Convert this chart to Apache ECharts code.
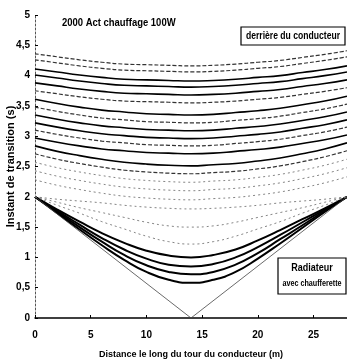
<!DOCTYPE html>
<html><head><meta charset="utf-8">
<script src="https://cdn.jsdelivr.net/npm/echarts@6/dist/echarts.min.js"></script>
<style>html,body{margin:0;padding:0;background:#fff}#c{width:347px;height:361px}</style>
</head><body><div id="c"></div>
<script>
// distances (m)
const xs = [0,2,4,6,8,10,12,14,16,18,20,22,24,26,28];
// upper family: "derrière du conducteur"
const upperCurves = [
 [4.36,4.31,4.26,4.22,4.19,4.18,4.17,4.16,4.17,4.19,4.22,4.25,4.30,4.35,4.41],
 [4.26,4.21,4.16,4.12,4.09,4.08,4.07,4.06,4.07,4.09,4.12,4.15,4.20,4.25,4.31],
 [4.11,4.06,4.01,3.97,3.94,3.93,3.92,3.91,3.92,3.94,3.97,4.00,4.05,4.10,4.16],
 [4.01,3.96,3.91,3.87,3.84,3.83,3.82,3.81,3.82,3.84,3.87,3.90,3.95,4.00,4.06],
 [3.88,3.83,3.78,3.74,3.71,3.70,3.69,3.68,3.69,3.71,3.74,3.77,3.82,3.87,3.93],
 [3.75,3.70,3.65,3.61,3.58,3.57,3.56,3.55,3.56,3.58,3.61,3.64,3.69,3.74,3.80],
 [3.61,3.54,3.48,3.43,3.40,3.37,3.36,3.35,3.36,3.39,3.42,3.46,3.52,3.58,3.66],
 [3.48,3.41,3.35,3.30,3.27,3.24,3.23,3.22,3.23,3.26,3.29,3.33,3.39,3.45,3.53],
 [3.35,3.28,3.22,3.17,3.14,3.11,3.10,3.09,3.10,3.13,3.16,3.20,3.26,3.32,3.40],
 [3.22,3.15,3.09,3.04,3.01,2.98,2.97,2.96,2.97,3.00,3.03,3.07,3.13,3.19,3.27],
 [3.10,3.03,2.97,2.92,2.89,2.86,2.85,2.84,2.85,2.88,2.91,2.95,3.01,3.07,3.15],
 [2.97,2.90,2.84,2.79,2.76,2.73,2.72,2.71,2.72,2.75,2.78,2.82,2.88,2.94,3.02],
 [2.84,2.75,2.68,2.62,2.57,2.54,2.52,2.51,2.53,2.55,2.59,2.64,2.71,2.79,2.89],
 [2.71,2.62,2.55,2.49,2.44,2.41,2.39,2.38,2.40,2.42,2.46,2.51,2.58,2.66,2.76],
 [2.57,2.48,2.41,2.35,2.30,2.27,2.25,2.24,2.26,2.28,2.32,2.37,2.44,2.52,2.62],
 [2.43,2.34,2.27,2.21,2.16,2.13,2.11,2.10,2.12,2.14,2.18,2.23,2.30,2.38,2.48],
 [2.28,2.19,2.12,2.06,2.01,1.98,1.96,1.95,1.97,1.99,2.03,2.08,2.15,2.23,2.33]
];
const upperKinds = ['d','d','s','s','s','d','s','d','s','s','d','s','s','d','l','l','l'];
// lower family: "Radiateur avec chaufferette"
const lowerCurves = [
 [2,1.73,1.46,1.20,0.96,0.76,0.63,0.58,0.63,0.76,0.98,1.23,1.49,1.75,2],
 [2,1.75,1.50,1.26,1.04,0.87,0.76,0.72,0.76,0.88,1.07,1.30,1.53,1.77,2],
 [2,1.77,1.54,1.32,1.13,0.98,0.88,0.85,0.89,1.00,1.17,1.37,1.58,1.79,2],
 [2,1.79,1.59,1.40,1.24,1.11,1.03,1.00,1.04,1.13,1.28,1.45,1.63,1.81,2],
 [2,1.86,1.73,1.59,1.47,1.35,1.26,1.22,1.26,1.35,1.47,1.59,1.73,1.86,2],
 [2,1.91,1.82,1.74,1.66,1.58,1.52,1.50,1.52,1.58,1.66,1.74,1.82,1.91,2],
 [2,1.96,1.93,1.90,1.86,1.83,1.81,1.80,1.81,1.83,1.86,1.90,1.93,1.96,2]
];
const lowerKinds = ['s','s','s','s','l','l','l'];
// unheated limit (V)
const vX = [0,14,28];
const vY = [2,0,2];
const xTicks = [0,5,10,15,20,25];

const FONT = "'Liberation Sans',Arial,sans-serif";
function styleOf(k, w){
  if(k==='s') return {color:'#000',width:w||1.6,type:'solid'};
  if(k==='d') return {color:'#333',width:1.2,type:[4,2]};
  return {color:'#777',width:0.9,type:[2,3]};
}
const series = [];
upperCurves.forEach((c,i)=>series.push({type:'line',smooth:true,symbol:'none',silent:true,
  data:xs.map((x,j)=>[x,c[j]]),lineStyle:styleOf(upperKinds[i])}));
lowerCurves.forEach((c,i)=>series.push({type:'line',smooth:true,symbol:'none',silent:true,
  data:xs.map((x,j)=>[x,c[j]]),lineStyle:styleOf(lowerKinds[i],2)}));
series.push({type:'line',symbol:'none',silent:true,data:vX.map((x,j)=>[x,vY[j]]),
  lineStyle:{color:'#444',width:0.8}});

const chart = echarts.init(document.getElementById('c'));
chart.setOption({
  animation:false,
  backgroundColor:'#fff',
  grid:{left:35,right:0,top:15,bottom:43,containLabel:false,outerBoundsMode:'none'},
  xAxis:{type:'value',min:0,max:28,interval:5,
    axisLine:{lineStyle:{color:'#000',width:1.5}},
    axisTick:{show:true,inside:true,length:3,lineStyle:{color:'#000'}},
    splitLine:{show:false},
    axisLabel:{color:'#000',fontFamily:FONT,fontWeight:'bold',fontSize:10,margin:12,showMaxLabel:false,
      formatter:v=>xTicks.indexOf(v)>=0?String(v):''},
    name:'Distance le long du tour du conducteur (m)',nameLocation:'middle',nameGap:32,nameMoveOverlap:false,
    nameTextStyle:{color:'#000',fontFamily:FONT,fontWeight:'bold',fontSize:9}},
  yAxis:{type:'value',min:0,max:5,interval:0.5,
    axisLine:{show:true,lineStyle:{color:'#555',width:1,type:[2,2]}},
    axisTick:{show:true,inside:true,length:3,lineStyle:{color:'#000'}},
    splitLine:{show:false},
    axisLabel:{color:'#000',fontFamily:FONT,fontWeight:'bold',fontSize:10,margin:5,
      formatter:v=>String(v).replace('.',',')},
    name:'Instant de transition (s)',nameLocation:'middle',nameGap:19,nameMoveOverlap:false,
    nameTextStyle:{color:'#000',fontFamily:FONT,fontWeight:'bold',fontSize:11}},
  graphic:[
    {type:'text',left:62,top:17,scaleX:0.86,style:{text:'2000 Act chauffage 100W',fill:'#000',font:"bold 11px "+FONT}},
    {type:'rect',shape:{x:241,y:27,width:104,height:18},style:{fill:'#fff',stroke:'#000',lineWidth:1.2}},
    {type:'text',x:293,y:36,scaleX:0.86,style:{text:'derrière du conducteur',fill:'#000',font:"bold 10px "+FONT,align:'center',verticalAlign:'middle'}},
    {type:'rect',shape:{x:278,y:258,width:68,height:36},style:{fill:'#fff',stroke:'#000',lineWidth:1.2}},
    {type:'text',x:312,y:268,scaleX:0.9,style:{text:'Radiateur',fill:'#000',font:"bold 10px "+FONT,align:'center',verticalAlign:'middle'}},
    {type:'text',x:312,y:284,scaleX:0.8,style:{text:'avec chaufferette',fill:'#000',font:"bold 9px "+FONT,align:'center',verticalAlign:'middle'}}
  ],
  series:series
});
</script></body></html>
